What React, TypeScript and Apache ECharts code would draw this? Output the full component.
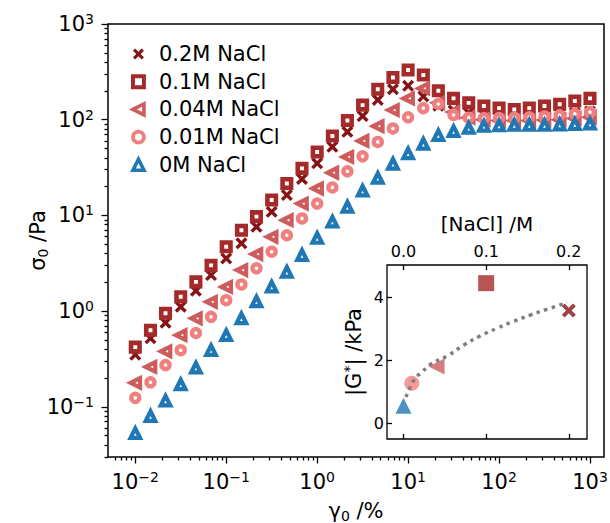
import React, { useEffect, useRef } from "react";
import * as echarts from "echarts";

// ---- data ----
const strainPct = [
  0.01, 0.0147, 0.0215, 0.0316, 0.0464, 0.0681, 0.1, 0.147, 0.215, 0.316, 0.464,
  0.681, 1, 1.47, 2.15, 3.16, 4.64, 6.81, 10, 14.7, 21.5, 31.6, 46.4, 68.1, 100,
  147, 215, 316, 464, 681, 1000,
];
const stress02M = [
  0.35, 0.52, 0.755, 1.11, 1.63, 2.38, 3.55, 5.1, 7.6, 10.9, 16.3, 24, 35, 52, 74.6,
  109, 161, 208, 226, 175, 140, 125, 118, 115, 113, 112, 112, 113, 115, 118, 122,
];
const stress01M = [
  0.42, 0.63, 0.95, 1.41, 2.02, 3.0, 4.7, 7.0, 9.7, 14.5, 21.5, 31, 46, 67.5, 98,
  142, 208, 276, 330, 293, 201, 167, 150, 139, 132, 128, 132, 139, 145, 157, 167,
];
const stress004M = [
  0.178, 0.261, 0.38, 0.56, 0.84, 1.25, 1.79, 2.68, 3.94, 5.97, 8.9, 13.3, 19.1,
  27.9, 40.8, 60, 85.6, 126, 167, 212, 150, 120, 105, 100, 98, 98, 98, 99, 100, 103, 106,
];
const stress001M = [
  0.124, 0.18, 0.273, 0.39, 0.59, 0.87, 1.3, 1.9, 2.8, 4.17, 6.2, 9.3, 13.3, 19.6,
  28.9, 41.4, 58.6, 81, 106, 132, 146, 112, 105, 104, 104, 105, 106, 108, 111, 115, 120,
];
const stress0M = [
  0.053, 0.08, 0.116, 0.171, 0.256, 0.39, 0.56, 0.84, 1.26, 1.8, 2.57, 3.85, 5.8,
  8.6, 12.3, 18.1, 24.6, 34.6, 44.5, 56, 69, 76, 82, 86, 87, 88, 88, 88, 89, 90, 91,
];
const seriesNames = ["0.2M NaCl", "0.1M NaCl", "0.04M NaCl", "0.01M NaCl", "0M NaCl"];

const insetConc = [0.2, 0.1, 0.04, 0.01, 0];
const insetModulus = [3.59, 4.46, 1.8, 1.27, 0.55];
const fitConc = [0.003, 0.014, 0.022, 0.032, 0.053, 0.073, 0.093, 0.113, 0.133, 0.154, 0.174, 0.198];
const fitModulus = [0.83, 1.43, 1.61, 1.86, 2.14, 2.49, 2.78, 3.02, 3.24, 3.45, 3.63, 3.84];

const xMajorExp = [-2, -1, 0, 1, 2, 3];
const yMajorExp = [-1, 0, 1, 2, 3];
const insetXTicks = [0, 0.1, 0.2];
const insetYTicks = [0, 2, 4];

// ---- styling ----
const FONT = "DejaVu Sans";
const COLORS = ["#861417", "#A52A2A", "#CD5C5C", "#F08080", "#1F77B4"];
const CROSS = "path://M0,2L2,0L5,3L8,0L10,2L7,5L10,8L8,10L5,7L2,10L0,8L3,5Z";
const LEFT_TRI = "path://M0,5L10,0L10,10Z";
const X_MIN = -2.3, X_MAX = 3.154, Y_MIN = -1.525, Y_MAX = 3;

const mainMarkers = [
  { symbol: CROSS, symbolSize: 12, itemStyle: { color: COLORS[0] } },
  { symbol: "rect", symbolSize: 8.5, itemStyle: { color: "#fff", borderColor: COLORS[1], borderWidth: 4.6 } },
  { symbol: LEFT_TRI, symbolSize: 9.5, itemStyle: { color: "#fff", borderColor: COLORS[2], borderWidth: 4.2 } },
  { symbol: "circle", symbolSize: 8, itemStyle: { color: "#fff", borderColor: COLORS[3], borderWidth: 4.4 } },
  { symbol: "triangle", symbolSize: 9.5, itemStyle: { color: "#fff", borderColor: COLORS[4], borderWidth: 4.2 } },
];
const insetMarkers = [
  { symbol: CROSS, symbolSize: 14 },
  { symbol: "rect", symbolSize: 16 },
  { symbol: LEFT_TRI, symbolSize: 16 },
  { symbol: "circle", symbolSize: 15 },
  { symbol: "triangle", symbolSize: 16 },
];

function minorLogTicks(lo: number, hi: number) {
  const out: number[] = [];
  for (let d = Math.floor(lo) - 1; d <= Math.ceil(hi); d++) {
    for (let k = 2; k <= 9; k++) {
      const v = d + Math.log10(k);
      if (v >= lo && v <= hi) out.push(v);
    }
  }
  return out;
}

const tickRich = {
  b: { fontSize: 21, lineHeight: 24, fontFamily: FONT, color: "#000" },
  s: { fontSize: 14, lineHeight: 15, verticalAlign: "top", fontFamily: FONT, color: "#000" },
};
const nameRich = {
  n: { fontSize: 21, lineHeight: 24, fontFamily: FONT, color: "#000" },
  sub: { fontSize: 14, lineHeight: 15, verticalAlign: "bottom", fontFamily: FONT, color: "#000" },
  sup: { fontSize: 14, lineHeight: 15, verticalAlign: "top", fontFamily: FONT, color: "#000" },
};
const expFmt = (v: number) => {
  const e = Math.round(v);
  return `{b|10}{s|${e < 0 ? "\u2212" + Math.abs(e) : e}}`;
};
const tickLine = { color: "#000", width: 1.3 };
const noLine = { show: false, onZero: false };

export default function App() {
  const ref = useRef<HTMLDivElement>(null);
  useEffect(() => {
    if (!ref.current) return;
    const chart = echarts.init(ref.current, undefined, { renderer: "svg" });

    const mainSeries = [stress02M, stress01M, stress004M, stress001M, stress0M].map((vals, i) => ({
      type: "scatter",
      name: seriesNames[i],
      xAxisIndex: 0,
      yAxisIndex: 0,
      data: strainPct.map((x, j) => [Math.log10(x), Math.log10(vals[j])]),
      symbol: mainMarkers[i].symbol,
      symbolSize: mainMarkers[i].symbolSize,
      itemStyle: { ...mainMarkers[i].itemStyle, opacity: 1 },
      silent: true,
      emphasis: { disabled: true },
    }));

    const option: any = {
      animation: false,
      textStyle: { fontFamily: FONT },
      legend: {
        orient: "vertical",
        left: 126,
        top: 38.5,
        itemWidth: 11,
        itemHeight: 11,
        itemGap: 6.7,
        selectedMode: false,
        textStyle: { fontSize: 21, fontFamily: FONT, color: "#000", padding: [0, 0, 0, 10] },
        data: seriesNames.map((n, i) => ({
          name: n,
          icon: mainMarkers[i].symbol,
          itemStyle: { ...mainMarkers[i].itemStyle, borderWidth: ((mainMarkers[i].itemStyle as any).borderWidth ?? 0) * 0.85 },
        })),
      },
      grid: [
        { left: 108, top: 24, width: 496, height: 433, show: true, borderColor: "#000", borderWidth: 1.5, backgroundColor: "transparent", outerBoundsMode: "none", containLabel: false },
        { left: 387, top: 265, width: 200, height: 174, show: true, borderColor: "#000", borderWidth: 1.3, backgroundColor: "#fff", outerBoundsMode: "none", containLabel: false },
      ],
      xAxis: [
        {
          gridIndex: 0, type: "value", min: X_MIN, max: X_MAX, position: "bottom",
          axisLine: noLine, splitLine: { show: false },
          axisTick: { show: true, customValues: xMajorExp, length: 6.5, lineStyle: tickLine },
          axisLabel: { customValues: xMajorExp, formatter: expFmt, rich: tickRich, margin: 13 },
          name: "{n|\u03b3}{sub|0}{n| /%}", nameLocation: "middle", nameGap: 42, nameMoveOverlap: false,
          nameTextStyle: { rich: nameRich },
        },
        {
          gridIndex: 0, type: "value", min: X_MIN, max: X_MAX, position: "bottom",
          axisLine: noLine, splitLine: { show: false },
          axisTick: { show: true, customValues: minorLogTicks(X_MIN, X_MAX), length: 3.5, lineStyle: tickLine },
          axisLabel: { show: false },
        },
        {
          gridIndex: 1, type: "value", min: -0.02, max: 0.222, position: "top",
          axisLine: noLine, splitLine: { show: false },
          axisTick: { show: true, inside: true, customValues: insetXTicks, length: 5, lineStyle: tickLine },
          axisLabel: { customValues: insetXTicks, formatter: (v: number) => v.toFixed(1), fontSize: 16, color: "#000", margin: 6, fontFamily: FONT },
          name: "[NaCl] /M", nameLocation: "middle", nameGap: 31, nameMoveOverlap: false,
          nameTextStyle: { fontSize: 20, color: "#000", fontFamily: FONT },
        },
        {
          gridIndex: 1, type: "value", min: -0.02, max: 0.222, position: "bottom",
          axisLine: noLine, splitLine: { show: false },
          axisTick: { show: true, inside: true, customValues: insetXTicks, length: 5, lineStyle: tickLine },
          axisLabel: { show: false },
        },
      ],
      yAxis: [
        {
          gridIndex: 0, type: "value", min: Y_MIN, max: Y_MAX, position: "left",
          axisLine: noLine, splitLine: { show: false },
          axisTick: { show: true, customValues: yMajorExp, length: 6.5, lineStyle: tickLine },
          axisLabel: { customValues: yMajorExp, formatter: expFmt, rich: tickRich, margin: 14 },
          name: "{n|\u03c3}{sub|0}{n| /Pa}", nameLocation: "middle", nameGap: 58, nameRotate: 90, nameMoveOverlap: false,
          nameTextStyle: { rich: nameRich },
        },
        {
          gridIndex: 0, type: "value", min: Y_MIN, max: Y_MAX, position: "left",
          axisLine: noLine, splitLine: { show: false },
          axisTick: { show: true, customValues: minorLogTicks(Y_MIN, Y_MAX), length: 3.5, lineStyle: tickLine },
          axisLabel: { show: false },
        },
        {
          gridIndex: 1, type: "value", min: -0.51, max: 5.04, position: "left",
          axisLine: noLine, splitLine: { show: false },
          axisTick: { show: true, inside: true, customValues: insetYTicks, length: 5, lineStyle: tickLine },
          axisLabel: { customValues: insetYTicks, fontSize: 16, color: "#000", margin: 3, fontFamily: FONT },
          name: "{n||G}{sup|*}{n|| /kPa}", nameLocation: "middle", nameGap: 21, nameRotate: 90, nameMoveOverlap: false,
          nameTextStyle: { rich: nameRich },
        },
      ],
      series: [
        ...mainSeries,
        {
          type: "line", xAxisIndex: 2, yAxisIndex: 2, smooth: true, showSymbol: false, symbol: "none",
          data: fitConc.map((c, i) => [c, fitModulus[i]]),
          lineStyle: { color: "#7f7f7f", width: 3.5, type: [3.5, 4.5], cap: "butt" },
          silent: true, emphasis: { disabled: true },
        },
        {
          type: "scatter", xAxisIndex: 2, yAxisIndex: 2, silent: true, emphasis: { disabled: true },
          data: insetConc.map((c, i) => ({
            value: [c, insetModulus[i]],
            symbol: insetMarkers[i].symbol,
            symbolSize: insetMarkers[i].symbolSize,
            itemStyle: { color: COLORS[i] },
          })),
        },
      ],
    };
    chart.setOption(option);
    return () => chart.dispose();
  }, []);
  return <div ref={ref} style={{ position: "absolute", left: 0, top: 0, width: 610, height: 523 }} />;
}
